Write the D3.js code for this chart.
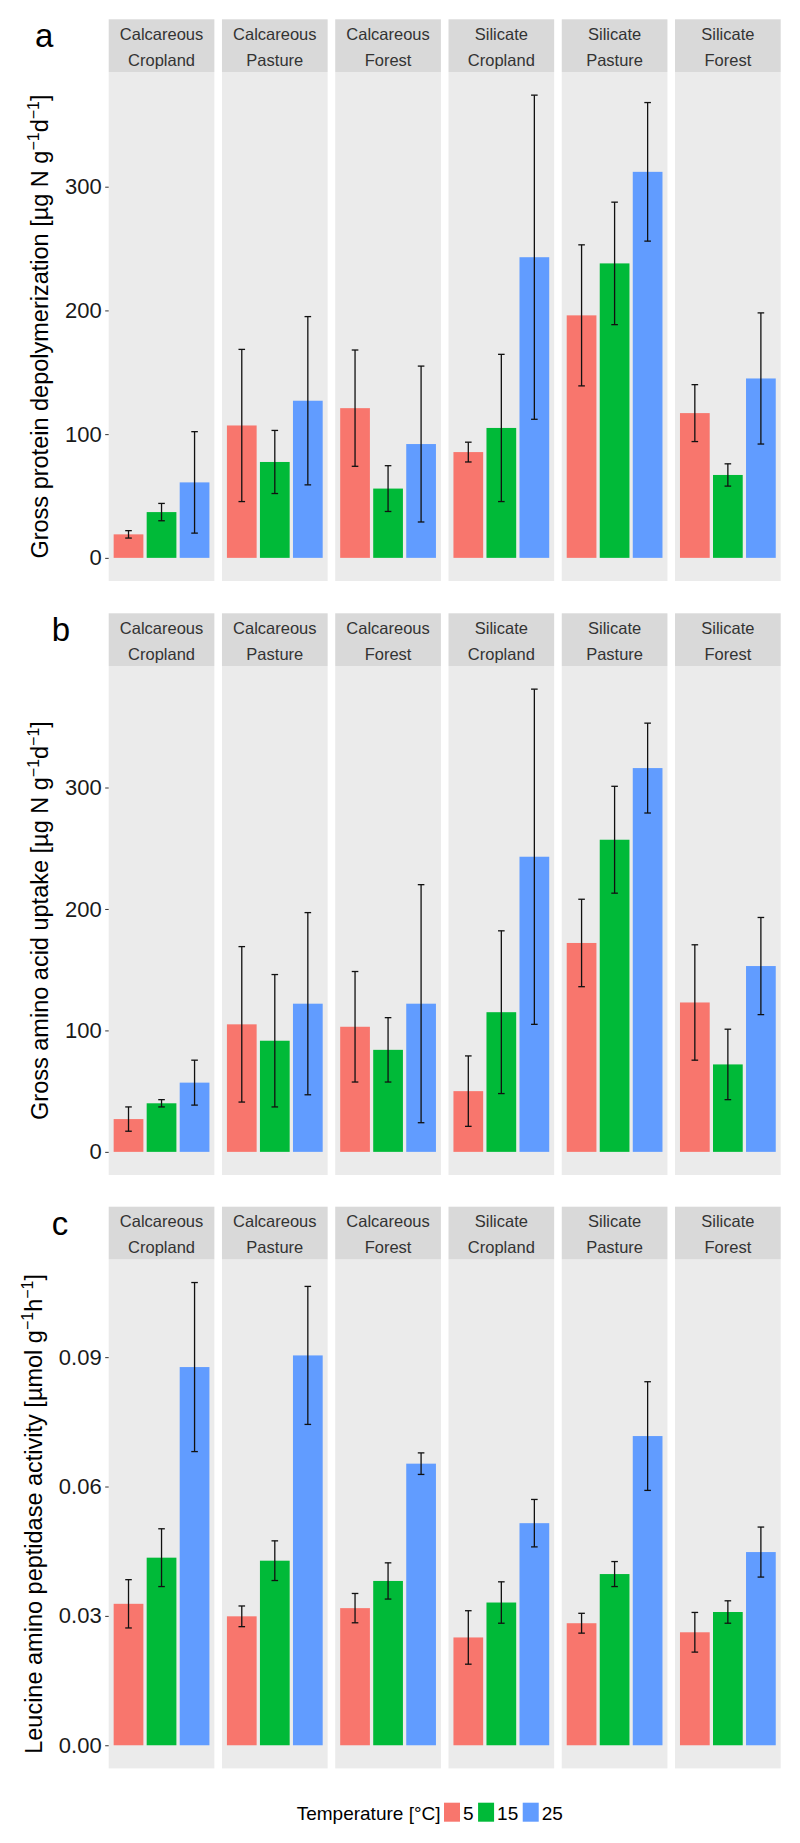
<!DOCTYPE html>
<html><head><meta charset="utf-8">
<script src="https://cdn.jsdelivr.net/npm/d3@7"></script>
<style>body{margin:0;background:#fff}svg{display:block}</style>
</head><body>
<script>
// ---------- data ----------
const parentMaterial = ["Calcareous","Calcareous","Calcareous","Silicate","Silicate","Silicate"];
const landUse = ["Cropland","Pasture","Forest","Cropland","Pasture","Forest"];
const temperatures = ["5","15","25"];
const tempColors = ["#F8766D","#00BA38","#619CFF"];

// Gross protein depolymerization (rows: 5, 15, 25 °C; columns: facets)
const depolyMean = [
  [19, 107, 121, 85.5, 196, 117],
  [37, 77.5, 56, 105, 238, 67],
  [61, 127, 92, 243, 312, 145]
];
const depolySe = [
  [3, 61.5, 47, 8, 57, 23],
  [7, 25.5, 18.5, 59.5, 49.5, 9],
  [41, 68, 63, 131, 56, 53]
];
const depolyTicks = [0, 100, 200, 300];
const depolyTickLabels = ["0", "100", "200", "300"];

// Gross amino acid uptake
const uptakeMean = [
  [27, 105, 103, 50, 172, 123],
  [40, 91.5, 84, 115, 257, 72],
  [57, 122, 122, 243, 316, 153]
];
const uptakeSe = [
  [10, 64, 45.5, 29, 36, 47.5],
  [3, 54.5, 26.5, 67, 44, 29],
  [18.5, 75, 98, 138, 37, 40]
];
const uptakeTicks = [0, 100, 200, 300];
const uptakeTickLabels = ["0", "100", "200", "300"];

// Leucine amino peptidase activity
const lapMean = [
  [0.0328, 0.0299, 0.0318, 0.0250, 0.0283, 0.0262],
  [0.0435, 0.0428, 0.0381, 0.0331, 0.0397, 0.0309],
  [0.0877, 0.0904, 0.0653, 0.0515, 0.0717, 0.0448]
];
const lapSe = [
  [0.0056, 0.0024, 0.0034, 0.0062, 0.0023, 0.0046],
  [0.0067, 0.0046, 0.0042, 0.0048, 0.0029, 0.0026],
  [0.0196, 0.0160, 0.0025, 0.0055, 0.0126, 0.0058]
];
const lapTicks = [0, 0.03, 0.06, 0.09];
const lapTickLabels = ["0.00", "0.03", "0.06", "0.09"];

const panelLetters = ["a", "b", "c"];
const yTitles = [
  [["Gross protein depolymerization [µg N  g", 0], ["−1", 1], ["d", 0], ["−1", 1], ["]", 0]],
  [["Gross amino acid uptake [µg N  g", 0], ["−1", 1], ["d", 0], ["−1", 1], ["]", 0]],
  [["Leucine amino peptidase activity [µmol g", 0], ["−1", 1], ["h", 0], ["−1", 1], ["]", 0]]
];
const legendTitle = "Temperature [°C]";

// ---------- layout ----------
const W = 800, H = 1843;
const FONT = "'Liberation Sans', Arial, sans-serif";
const plotLeft = 108.7, plotRight = 780.7;
const stripTops = [19.3, 613.3, 1206.7];
const stripH = 52.7, panelH = 509;

const panels = [
  {mean: depolyMean, se: depolySe, ticks: depolyTicks, labels: depolyTickLabels},
  {mean: uptakeMean, se: uptakeSe, ticks: uptakeTicks, labels: uptakeTickLabels},
  {mean: lapMean, se: lapSe, ticks: lapTicks, labels: lapTickLabels}
];

const svg = d3.select("body").append("svg").attr("width", W).attr("height", H)
  .style("font-family", FONT);
svg.append("rect").attr("width", W).attr("height", H).attr("fill", "#fff");

const facetIdx = d3.range(parentMaterial.length);
const xFacet = d3.scaleBand().domain(facetIdx).range([plotLeft, plotRight])
  .paddingInner(0.067).paddingOuter(0);
const xTemp = d3.scaleBand().domain(temperatures).range([0, xFacet.bandwidth()])
  .paddingInner(0.1).paddingOuter(0.15);

panels.forEach((p, pi) => {
  const stripTop = stripTops[pi];
  const pTop = stripTop + stripH, pBot = pTop + panelH;
  const rows = [];
  temperatures.forEach((t, ti) => facetIdx.forEach(fi => rows.push({
    t, ti, fi, m: p.mean[ti][fi], s: p.se[ti][fi]
  })));
  const maxV = d3.max(rows, d => d.m + d.s);
  const y = d3.scaleLinear().domain([-0.05 * maxV, 1.05 * maxV]).range([pBot, pTop]);
  const g = svg.append("g");

  // panel backgrounds and strips
  facetIdx.forEach(fi => {
    const x0 = xFacet(fi);
    g.append("rect").attr("x", x0).attr("y", pTop).attr("width", xFacet.bandwidth())
      .attr("height", panelH).attr("fill", "#EBEBEB");
    g.append("rect").attr("x", x0).attr("y", stripTop).attr("width", xFacet.bandwidth())
      .attr("height", stripH).attr("fill", "#D9D9D9");
    const st = g.append("text").attr("text-anchor", "middle").attr("fill", "#333")
      .attr("font-size", 16.5);
    st.append("tspan").attr("x", x0 + xFacet.bandwidth() / 2).attr("y", stripTop + 20.5)
      .text(parentMaterial[fi]);
    st.append("tspan").attr("x", x0 + xFacet.bandwidth() / 2).attr("y", stripTop + 46.5)
      .text(landUse[fi]);
  });

  // bars
  g.selectAll("rect.bar").data(rows).enter().append("rect").attr("class", "bar")
    .attr("x", d => xFacet(d.fi) + xTemp(d.t))
    .attr("width", xTemp.bandwidth())
    .attr("y", d => y(d.m))
    .attr("height", d => y(0) - y(d.m))
    .attr("fill", d => tempColors[d.ti]);

  // error bars
  const capW = xTemp.step() * 0.2;
  const eb = g.selectAll("g.eb").data(rows).enter().append("g").attr("class", "eb")
    .attr("stroke", "#111").attr("stroke-width", 1.3);
  eb.append("line")
    .attr("x1", d => xFacet(d.fi) + xTemp(d.t) + xTemp.bandwidth() / 2)
    .attr("x2", d => xFacet(d.fi) + xTemp(d.t) + xTemp.bandwidth() / 2)
    .attr("y1", d => y(d.m - d.s)).attr("y2", d => y(d.m + d.s));
  [1, -1].forEach(sg => eb.append("line")
    .attr("x1", d => xFacet(d.fi) + xTemp(d.t) + xTemp.bandwidth() / 2 - capW / 2)
    .attr("x2", d => xFacet(d.fi) + xTemp(d.t) + xTemp.bandwidth() / 2 + capW / 2)
    .attr("y1", d => y(d.m + sg * d.s)).attr("y2", d => y(d.m + sg * d.s)));

  // y axis
  const axis = d3.axisLeft(y).tickValues(p.ticks)
    .tickFormat((d, i) => p.labels[i]).tickSize(3.5).tickPadding(3.5);
  const ag = svg.append("g").attr("transform", `translate(${plotLeft},0)`).call(axis);
  ag.select(".domain").remove();
  ag.selectAll(".tick line").attr("stroke", "#333").attr("stroke-width", 1);
  ag.selectAll(".tick text").attr("fill", "#1a1a1a").attr("font-size", 22)
    .attr("font-family", FONT);
  let minLeft = plotLeft;
  ag.selectAll(".tick text").each(function () {
    const bb = this.getBBox();
    minLeft = Math.min(minLeft, plotLeft + bb.x);
  });

  // y title
  const tx = minLeft - 17, ty = (pTop + pBot) / 2;
  const tt = svg.append("text").attr("transform", `translate(${tx},${ty}) rotate(-90)`)
    .attr("text-anchor", "middle").attr("font-size", 23.5).attr("fill", "#000");
  let shifted = false;
  yTitles[pi].forEach(([txt, sup]) => {
    const ts = tt.append("tspan").text(txt);
    if (sup && !shifted) { ts.attr("dy", -8.5).attr("font-size", 16); shifted = true; }
    else if (sup) { ts.attr("font-size", 16); }
    else if (!sup && shifted) { ts.attr("dy", 8.5); shifted = false; }
  });

  // panel letter
  svg.append("text").attr("x", pi === 0 ? 35 : 51.7).attr("y", stripTop + 28)
    .attr("font-size", 33).attr("fill", "#000").text(panelLetters[pi]);
});

// ---------- legend ----------
const lg = svg.append("g");
const lgBase = 1820;
const lt = lg.append("text").attr("x", 296.7).attr("y", lgBase).attr("font-size", 19)
  .attr("fill", "#000").text(legendTitle);
let lx = 444;
temperatures.forEach((t, i) => {
  lg.append("rect").attr("x", lx).attr("y", 1802.7).attr("width", 16).attr("height", 19)
    .attr("fill", tempColors[i]);
  lx += 16 + 3;
  const tl = lg.append("text").attr("x", lx).attr("y", lgBase).attr("font-size", 19)
    .attr("fill", "#000").text(t);
  lx += tl.node().getComputedTextLength() + 4.5;
});
</script>
</body></html>
